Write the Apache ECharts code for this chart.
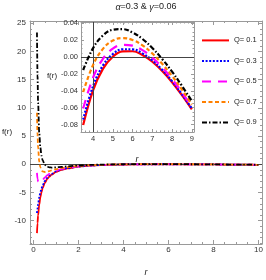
<!DOCTYPE html>
<html><head><meta charset="utf-8">
<script src="https://cdn.jsdelivr.net/npm/echarts@6/dist/echarts.min.js"></script>
<style>html,body{margin:0;padding:0;background:#fff}#c{width:266px;height:280px}</style>
</head><body><div id="c"></div>
<script>
const NAMES = ['Q= 0.1','Q= 0.3','Q= 0.5','Q= 0.7','Q= 0.9'];
const COLORS = ['#ff0000','#0000ff','#ff00ff','#ff8000','#000000'];
const DASHES = ['solid',[2,1.6],[9,7],[4,2.5],[5,2,1.5,2]];

// main plot: r and f(r) for each Q
const R_MAIN = [0.15,0.175,0.2,0.25,0.3,0.35,0.4,0.5,0.6,0.7,0.8,1,1.25,1.5,2,2.5,3,3.5,4,5,6,7,8,9,10];
const MAIN_Q01 = [-12.198,-10.413,-9.062,-7.155,-5.874,-4.954,-4.262,-3.29,-2.642,-2.179,-1.832,-1.35,-0.969,-0.719,-0.418,-0.248,-0.146,-0.081,-0.039,0.0004,0.0069,-0.0055,-0.0298,-0.0621,-0.0999];
const MAIN_Q03 = [-8.642,-7.800,-7.062,-5.875,-4.985,-4.301,-3.762,-2.97,-2.419,-2.015,-1.707,-1.27,-0.917,-0.683,-0.398,-0.236,-0.137,-0.074,-0.034,0.0036,0.0092,-0.0039,-0.0286,-0.0611,-0.0991];
const MAIN_Q05 = [-1.531,-2.576,-3.062,-3.315,-3.207,-2.995,-2.762,-2.33,-1.975,-1.689,-1.457,-1.11,-0.815,-0.612,-0.358,-0.21,-0.119,-0.061,-0.024,0.01,0.0136,-0.0006,-0.0261,-0.0591,-0.0975];
const MAIN_Q07 = [9.135,5.261,2.938,0.525,-0.540,-1.035,-1.262,-1.37,-1.308,-1.199,-1.082,-0.87,-0.661,-0.506,-0.298,-0.172,-0.092,-0.041,-0.009,0.0196,0.0203,0.0043,-0.0223,-0.0562,-0.0951];
const MAIN_Q09 = [23.358,15.710,10.938,5.645,3.015,1.577,0.739,-0.09,-0.419,-0.546,-0.582,-0.55,-0.457,-0.363,-0.218,-0.120,-0.057,-0.015,0.011,0.0324,0.0292,0.0108,-0.0173,-0.0522,-0.0919];

// inset
const R_INSET = [3.5,4,4.5,5,5.5,6,6.5,7,7.5,8,8.5,9];
const INSET_Q01 = [-0.0806,-0.0394,-0.0140,0.0004,0.0067,0.0069,0.0025,-0.0055,-0.0165,-0.0298,-0.0452,-0.0621];
const INSET_Q03 = [-0.0741,-0.0344,-0.0100,0.0036,0.0093,0.0092,0.0044,-0.0039,-0.0151,-0.0286,-0.0441,-0.0611];
const INSET_Q05 = [-0.0610,-0.0244,-0.0021,0.0100,0.0146,0.0136,0.0082,-0.0006,-0.0122,-0.0261,-0.0418,-0.0591];
const INSET_Q07 = [-0.0414,-0.0094,0.0098,0.0196,0.0226,0.0203,0.0139,0.0043,-0.0080,-0.0223,-0.0385,-0.0562];
const INSET_Q09 = [-0.0153,0.0106,0.0256,0.0324,0.0331,0.0292,0.0215,0.0108,-0.0023,-0.0173,-0.0341,-0.0522];

// tick labels
const MAIN_X_TICKS = [0,2,4,6,8,10];
const MAIN_Y_TICKS = [-10,-5,0,5,10,15,20,25];
const INSET_X_TICKS = [4,5,6,7,8,9];
const INSET_Y_TICKS = [-0.08,-0.06,-0.04,-0.02,0,0.02,0.04];

const MAIN = [MAIN_Q01,MAIN_Q03,MAIN_Q05,MAIN_Q07,MAIN_Q09];
const INSET = [INSET_Q01,INSET_Q03,INSET_Q05,INSET_Q07,INSET_Q09];

function minorList(a,b,step,majors){
  const out=[]; const n=Math.round((b-a)/step);
  for(let i=0;i<=n;i++){const v=+(a+i*step).toFixed(5); if(!majors.some(m=>Math.abs(m-v)<1e-9)) out.push(v);}
  return out;
}
const FRAME='#9a9a9a', LBL='#333', FF='Liberation Sans';
function axes(kind,grid,min,max,majors,minors,fmt,fs,margin,majLen,minLen){
  const p1 = kind==='x'?'bottom':'left', p2 = kind==='x'?'top':'right';
  const base = {type:'value',gridIndex:grid,min:min,max:max,splitLine:{show:false}};
  return [
    Object.assign({},base,{position:p1,axisLine:{show:true,onZero:false,lineStyle:{color:FRAME,width:1}},
      axisTick:{show:true,inside:true,length:majLen,customValues:majors,lineStyle:{color:FRAME}},
      axisLabel:{show:true,customValues:majors,formatter:fmt,fontSize:fs,fontFamily:FF,color:LBL,margin:margin}}),
    Object.assign({},base,{position:p1,axisLine:{show:false,onZero:false},
      axisTick:{show:true,inside:true,length:minLen,customValues:minors,lineStyle:{color:FRAME}},axisLabel:{show:false}}),
    Object.assign({},base,{position:p2,axisLine:{show:true,onZero:false,lineStyle:{color:FRAME,width:1}},
      axisTick:{show:true,inside:true,length:majLen,customValues:majors,lineStyle:{color:FRAME}},axisLabel:{show:false}}),
    Object.assign({},base,{position:p2,axisLine:{show:false,onZero:false},
      axisTick:{show:true,inside:true,length:minLen,customValues:minors,lineStyle:{color:FRAME}},axisLabel:{show:false}})
  ];
}
const xAxes = [].concat(
  axes('x',0,-0.16,10.16,MAIN_X_TICKS,minorList(0,10,0.5,MAIN_X_TICKS),v=>String(v),8,2,4,2),
  axes('x',1,3.39,9.11,INSET_X_TICKS,minorList(3.4,9.1,0.2,INSET_X_TICKS),v=>String(v),7.5,3,3,1.5)
);
const yAxes = [].concat(
  axes('y',0,-14.13,25.4,MAIN_Y_TICKS,minorList(-14,25,1,MAIN_Y_TICKS),v=>String(v),8,4,4,2),
  axes('y',1,-0.0888,0.0416,INSET_Y_TICKS,minorList(-0.085,0.04,0.005,INSET_Y_TICKS),v=>v.toFixed(2),7.5,3,3,1.5)
);

const series=[];
MAIN.forEach((arr,k)=>{
  const s={type:'line',name:NAMES[k],xAxisIndex:0,yAxisIndex:0,symbol:'none',smooth:0.3,smoothMonotone:'x',
    data:R_MAIN.map((r,i)=>[r,arr[i]]),
    lineStyle:{color:COLORS[k],width:1.8,type:DASHES[k]},itemStyle:{color:COLORS[k]},z:3+k};
  if(k===0){s.markLine={silent:true,symbol:'none',label:{show:false},lineStyle:{color:'#444',width:1,type:'solid'},data:[{yAxis:0}]};}
  series.push(s);
});
INSET.forEach((arr,k)=>{
  const s={type:'line',name:NAMES[k],xAxisIndex:4,yAxisIndex:4,symbol:'none',smooth:0.4,
    data:R_INSET.map((r,i)=>[r,arr[i]]),
    lineStyle:{color:COLORS[k],width:2.2,type:DASHES[k]},itemStyle:{color:COLORS[k]},z:3+k};
  if(k===0){s.markLine={silent:true,symbol:'none',label:{show:false},lineStyle:{color:'#444',width:1,type:'solid'},data:[{yAxis:0},{xAxis:4}]};}
  series.push(s);
});

const chart=echarts.init(document.getElementById('c'),null,{renderer:'canvas'});
chart.setOption({
  animation:false,
  backgroundColor:'#fff',
  grid:[{left:30,top:21,width:232,height:223},{left:81,top:22,width:113,height:110}],
  xAxis:xAxes, yAxis:yAxes, series:series,
  legend:{data:NAMES,orient:'vertical',left:201,top:34.8,padding:0,itemWidth:27,itemHeight:14,itemGap:9.3,
    itemStyle:{opacity:0,borderWidth:0,color:'transparent'},
    textStyle:{fontSize:7.5,fontFamily:FF,color:'#222'},selectedMode:false},
  graphic:[
    {type:'text',x:146,y:7,style:{text:'{i|α}=0.3 & {i|γ}=0.06',align:'center',verticalAlign:'middle',textAlign:'center',textVerticalAlign:'middle',
      fontSize:9,fontFamily:FF,fill:'#222',rich:{i:{fontStyle:'italic',fontSize:9,fontFamily:FF,fill:'#222'}}}},
    {type:'text',x:7,y:132,style:{text:'f(r)',align:'center',verticalAlign:'middle',textAlign:'center',textVerticalAlign:'middle',fontSize:8,fontFamily:FF,fill:'#222'}},
    {type:'text',x:52,y:76,style:{text:'f(r)',align:'center',verticalAlign:'middle',textAlign:'center',textVerticalAlign:'middle',fontSize:8,fontFamily:FF,fill:'#222'}},
    {type:'text',x:146,y:272,style:{text:'r',align:'center',verticalAlign:'middle',textAlign:'center',textVerticalAlign:'middle',fontSize:9,fontStyle:'italic',fontFamily:FF,fill:'#222'}},
    {type:'text',x:137,y:159,style:{text:'r',align:'center',verticalAlign:'middle',textAlign:'center',textVerticalAlign:'middle',fontSize:9,fontStyle:'italic',fontFamily:FF,fill:'#222'}}
  ]
});
</script></body></html>
